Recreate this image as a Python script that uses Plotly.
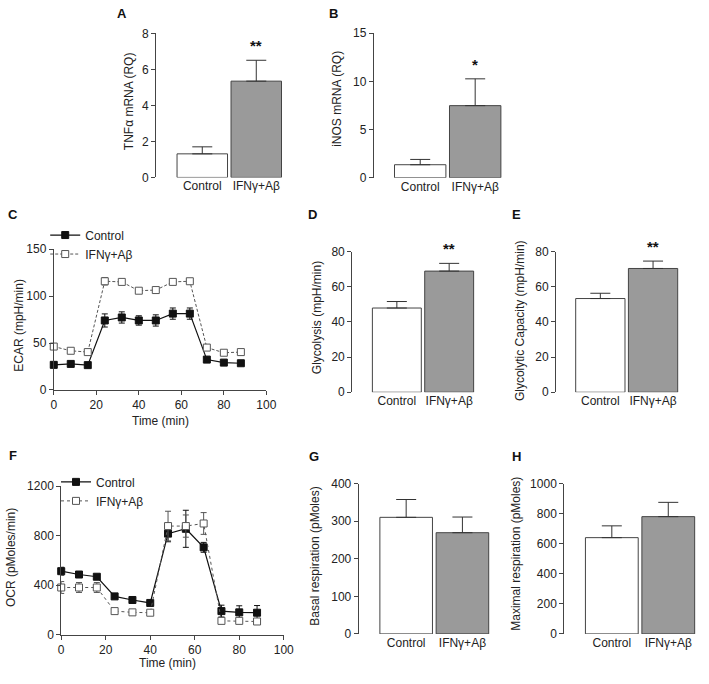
import plotly.graph_objects as go

W, H = 709, 684
FONT = "Liberation Sans, Arial, sans-serif"
AX = "#444444"
TXT = "#222222"

groups = ["Control", "IFNγ+Aβ"]

# Panel A: TNFa mRNA
tnf_mean = [1.31, 5.35]
tnf_err = [0.39, 1.16]
# Panel B: iNOS mRNA
inos_mean = [1.35, 7.48]
inos_err = [0.55, 2.78]
# Panel D: Glycolysis
glyco_mean = [47.9, 68.9]
glyco_err = [3.7, 4.4]
# Panel E: Glycolytic capacity
glycap_mean = [53.3, 70.4]
glycap_err = [3.0, 4.2]
# Panel G: Basal respiration
basal_mean = [310.5, 269.6]
basal_err = [47.5, 41.7]
# Panel H: Maximal respiration
maxresp_mean = [641, 781]
maxresp_err = [78.5, 95]

# Time courses
time_min = [0, 8, 16, 24, 32, 40, 48, 56, 64, 72, 80, 88]
ecar_ctrl = [26.8, 27.8, 26.5, 74.1, 77.3, 74.1, 74.1, 81.4, 81.4, 32.4, 29.2, 28.5]
ecar_ctrl_err = [3, 2, 2, 7, 6, 5, 6, 6, 6, 2, 2, 2]
ecar_ifn = [46.3, 41.8, 40.4, 115.9, 115.2, 105.8, 106.5, 115.2, 115.9, 45.2, 39.7, 40.4]
ecar_ifn_err = [3, 2, 2, 4, 2, 2, 2, 2, 2, 2, 2, 2]
ocr_ctrl = [513, 486, 468, 309, 280, 256, 817, 856, 706, 190, 180, 177]
ocr_ctrl_err = [32, 15, 15, 10, 10, 15, 66, 150, 40, 48, 53, 58]
ocr_ifn = [381, 381, 381, 190, 180, 177, 878, 878, 899, 111, 111, 106]
ocr_ifn_err = [48, 40, 40, 10, 10, 10, 120, 90, 88, 13, 13, 13]


def px(x):
    return x / W


def py(y):
    return 1 - y / H


fig = go.Figure()
annotations = []


def ytitle(text, x, y):
    annotations.append(dict(text=text, x=px(x), y=py(y), xref="paper", yref="paper",
                            textangle=-90, showarrow=False, xanchor="center", yanchor="middle",
                            font=dict(size=12, color=TXT, family=FONT)))


def letter(text, x, y):
    annotations.append(dict(text="<b>%s</b>" % text, x=px(x), y=py(y), xref="paper", yref="paper",
                            showarrow=False, xanchor="center", yanchor="middle",
                            font=dict(size=13, color="#111", family=FONT)))


def bar_panel(i, means, errs, axis_px, c0_px, spacing, right_px, top_px, bot_px, ymax, dtick, stars=None):
    xa = "x" if i == 1 else "x%d" % i
    ya = "y" if i == 1 else "y%d" % i
    fig.add_trace(go.Bar(
        x=[0, 1], y=means, width=0.935, xaxis=xa, yaxis=ya,
        marker=dict(color=["white", "#9a9a9a"], line=dict(color="#444", width=1)),
        error_y=dict(type="data", symmetric=False, array=errs, arrayminus=[0, 0],
                     color="#333", thickness=1, width=10),
        showlegend=False, hoverinfo="skip"))
    kx = "xaxis" if i == 1 else "xaxis%d" % i
    ky = "yaxis" if i == 1 else "yaxis%d" % i
    fig.layout[kx] = dict(domain=[px(axis_px), px(right_px)],
                          range=[(axis_px - c0_px) / spacing, (right_px - c0_px) / spacing],
                          anchor=ya, tickvals=[0, 1], ticktext=groups, ticks="",
                          showline=False, showgrid=False, zeroline=False, fixedrange=True,
                          tickfont=dict(size=12, color=TXT, family=FONT))
    fig.layout[ky] = dict(domain=[py(bot_px), py(top_px)], range=[0, ymax], anchor=xa,
                          dtick=dtick, tick0=0, ticks="outside", ticklen=4, tickcolor=AX,
                          showline=True, linecolor=AX, linewidth=1, showgrid=False, zeroline=False,
                          fixedrange=True, tickfont=dict(size=12, color=TXT, family=FONT))
    if stars:
        annotations.append(dict(text=stars, x=1, y=means[1] + errs[1], xref=xa, yref=ya,
                                showarrow=False, yanchor="bottom", yshift=4,
                                font=dict(size=15, color="#111", family=FONT)))


bar_panel(1, tnf_mean, tnf_err, 156, 203, 55, 290, 27, 174, 8, 2, "<b>**</b>")
bar_panel(2, inos_mean, inos_err, 377.7, 425, 56, 515, 26.7, 174.3, 15, 5, "<b>*</b>")
bar_panel(4, glyco_mean, glyco_err, 355.7, 401.2, 53.3, 486, 249.7, 393.3, 80, 20, "<b>**</b>")
bar_panel(5, glycap_mean, glycap_err, 563.3, 608.5, 53.7, 696, 249.7, 393.3, 80, 20, "<b>**</b>")
bar_panel(7, basal_mean, basal_err, 362.3, 410.7, 57.3, 500, 486.7, 640, 400, 100)
bar_panel(8, maxresp_mean, maxresp_err, 571.7, 620.2, 57.5, 709, 486.7, 640, 1000, 200)


def line_panel(i, yc, yce, yi, yie, left_px, right_px, top_px, bot_px, ymax, dtick, dash, legend):
    xa = "x%d" % i
    ya = "y%d" % i
    fig.add_trace(go.Scatter(
        x=time_min, y=yc, xaxis=xa, yaxis=ya, name="Control", mode="lines+markers",
        line=dict(color="#111", width=1.2),
        marker=dict(symbol="square", size=7, color="#111", line=dict(color="#111", width=1)),
        error_y=dict(type="data", array=yce, color="#111", thickness=1, width=3),
        cliponaxis=False, legend=legend, hoverinfo="skip"))
    fig.add_trace(go.Scatter(
        x=time_min, y=yi, xaxis=xa, yaxis=ya, name="IFNγ+Aβ", mode="lines+markers",
        line=dict(color="#555", width=1, dash=dash),
        marker=dict(symbol="square", size=7, color="white", line=dict(color="#555", width=1)),
        error_y=dict(type="data", array=yie, color="#555", thickness=1, width=3),
        cliponaxis=False, legend=legend, hoverinfo="skip"))
    fig.layout["xaxis%d" % i] = dict(domain=[px(left_px), px(right_px)], range=[0, 100], anchor=ya,
                                     dtick=20, tick0=0, ticks="outside", ticklen=4, tickcolor=AX,
                                     showline=True, linecolor=AX, linewidth=1, showgrid=False,
                                     zeroline=False, fixedrange=True,
                                     tickfont=dict(size=12, color=TXT, family=FONT))
    fig.layout["yaxis%d" % i] = dict(domain=[py(bot_px), py(top_px)], range=[0, ymax], anchor=xa,
                                     dtick=dtick, tick0=0, ticks="outside", ticklen=4, tickcolor=AX,
                                     showline=True, linecolor=AX, linewidth=1, showgrid=False,
                                     zeroline=False, fixedrange=True,
                                     tickfont=dict(size=12, color=TXT, family=FONT))


line_panel(3, ecar_ctrl, ecar_ctrl_err, ecar_ifn, ecar_ifn_err, 51.7, 268.3, 247.3, 391, 150, 50,
           "3px,2px", "legend")
line_panel(6, ocr_ctrl, ocr_ctrl_err, ocr_ifn, ocr_ifn_err, 59.3, 286, 489.3, 640.7, 1200, 400,
           "dot", "legend2")

# Axis titles
ytitle("TNFα mRNA (RQ)", 128, 96.5)
ytitle("iNOS mRNA (RQ)", 340, 94)
ytitle("ECAR (mpH/min)", 16.7, 325)
ytitle("Glycolysis (mpH/min)", 320, 317.5)
ytitle("Glycolytic Capacity (mpH/min)", 527.3, 320)
ytitle("OCR (pMoles/min)", 8, 561.7)
ytitle("Basal respiration (pMoles)", 318.3, 560.7)
ytitle("Maximal respiration (pMoles)", 521.7, 558)
for (xx, yy) in [(160, 422.7), (168, 670)]:
    annotations.append(dict(text="Time (min)", x=px(xx), y=py(yy), xref="paper", yref="paper",
                            showarrow=False, xanchor="center", yanchor="middle",
                            font=dict(size=12, color=TXT, family=FONT)))

letter("A", 121, 7)
letter("B", 337, 7)
letter("C", 10, 212)
letter("D", 315, 212)
letter("E", 523, 212)
letter("F", 10, 458)
letter("G", 317, 459)
letter("H", 523, 459)

leg_common = dict(font=dict(size=12, color=TXT, family=FONT), bgcolor="rgba(0,0,0,0)",
                  itemwidth=30, tracegroupgap=0, xanchor="left", yanchor="top", itemclick=False,
                  itemdoubleclick=False)
fig.update_layout(
    width=W, height=H, autosize=False,
    margin=dict(l=0, r=0, t=0, b=0),
    paper_bgcolor="white", plot_bgcolor="white",
    font=dict(family=FONT, size=12, color=TXT),
    annotations=annotations,
    hovermode=False,
    legend=dict(x=px(43), y=py(218), **leg_common),
    legend2=dict(x=px(54), y=py(470), **leg_common),
)

fig.write_html("out.html", config={"displayModeBar": False, "staticPlot": False},
               post_script="document.body.style.margin='0px';document.body.style.overflow='hidden';")
